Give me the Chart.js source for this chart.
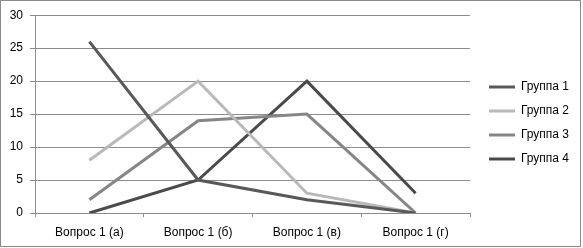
<!DOCTYPE html>
<html><head><meta charset="utf-8">
<script src="https://cdn.jsdelivr.net/npm/chart.js@4"></script>
<style>
html,body{margin:0;padding:0;background:#fff;}
#wrap{position:relative;width:581px;height:247px;box-sizing:border-box;border:1px solid #8a8a8a;}
canvas{display:block;}
</style></head><body>
<div id="wrap"><canvas id="c" width="579" height="245"></canvas></div>
<script>
const categories = ["Вопрос 1 (а)", "Вопрос 1 (б)", "Вопрос 1 (в)", "Вопрос 1 (г)"];
const seriesNames = ["Группа 1", "Группа 2", "Группа 3", "Группа 4"];
const group1 = [26, 5, 2, 0];
const group2 = [8, 20, 3, 0];
const group3 = [2, 14, 15, 0];
const group4 = [0, 5, 20, 3];
const yTicks = [0, 5, 10, 15, 20, 25, 30];

const colors = ["#595959", "#b9b9b9", "#868686", "#4a4a4a"];
const values = [group1, group2, group3, group4];

Chart.defaults.font.family = "'Liberation Sans', Arial, sans-serif";
Chart.defaults.font.size = 12;
Chart.defaults.color = "#000";

// legend geometry helper: fixed width box placed right of plot, items vertically centred on canvas
const legendPlace = {
  id: 'legendPlace',
  beforeLayout(chart) {
    const L = chart.legend;
    if (L && !L._patched) {
      const f = L.fit;
      L.fit = function () { f.call(this); this.width = 103; };
      L._patched = true;
    }
  },
  afterLayout(chart) {
    const L = chart.legend;
    L.top = 15; L.bottom = 229; L.height = L.bottom - L.top;
  }
};

new Chart(document.getElementById('c'), {
  type: 'line',
  data: {
    labels: categories,
    datasets: seriesNames.map((n, i) => ({
      label: n,
      data: values[i],
      xAxisID: 'x',
      yAxisID: 'y',
      borderColor: colors[i],
      backgroundColor: colors[i],
      borderWidth: 3,
      pointRadius: 0,
      tension: 0,
      fill: false
    }))
  },
  plugins: [legendPlace],
  options: {
    responsive: false,
    animation: false,
    layout: { padding: { top: 14, right: 0, left: 0, bottom: 0 } },
    plugins: {
      tooltip: { enabled: false },
      legend: {
        position: 'right',
        labels: {
          boxWidth: 26,
          boxHeight: 3,
          padding: 12,
          font: { size: 12 },
          generateLabels(chart) {
            return chart.data.datasets.map((d, i) => ({
              text: d.label, fillStyle: d.borderColor, strokeStyle: d.borderColor,
              lineWidth: 0, datasetIndex: i, hidden: false
            }));
          }
        }
      }
    },
    scales: {
      x: {
        offset: true,
        grid: { offset: true, drawOnChartArea: false, color: '#8c8c8c', tickLength: 4 },
        border: { color: '#8c8c8c' },
        ticks: { padding: 8 },
        afterFit(scale) { scale.height = 33; }
      },
      y: {
        min: 0, max: 30,
        afterBuildTicks(scale) { scale.ticks = yTicks.map(v => ({ value: v })); },
        grid: { color: '#8c8c8c', tickLength: 5 },
        border: { color: '#8c8c8c' },
        ticks: { padding: 7 },
        afterFit(scale) { scale.width = 34; }
      },
      gap: {
        axis: 'y',
        position: 'right',
        display: true,
        grid: { display: false, drawTicks: false },
        border: { display: false },
        ticks: { display: false },
        afterFit(scale) { scale.width = 7; }
      }
    }
  }
});
</script>
</body></html>
